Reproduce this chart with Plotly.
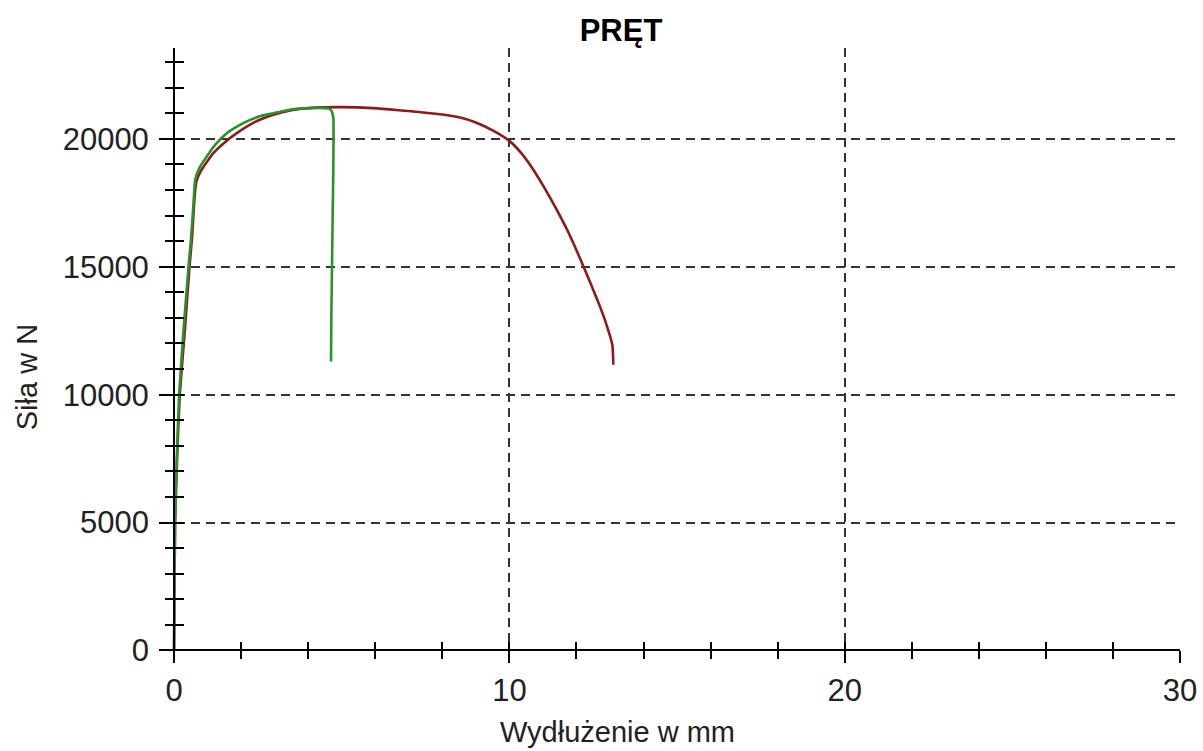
import plotly.graph_objects as go

# ---- data ----
red_x = [0, 0.01, 0.03, 0.09, 0.17, 0.32, 0.46, 0.54, 0.60, 0.66, 0.78, 1.17, 1.50, 1.87, 2.40, 2.96,
         3.50, 4.20, 5.00, 5.94, 6.70, 7.43, 8.00, 8.50, 9.00, 9.50, 10.00, 10.35, 10.71, 11.05, 11.41,
         11.80, 12.21, 12.45, 12.70, 12.90, 13.07, 13.10]
red_y = [0, 2000, 5000, 7500, 10000, 12500, 15000, 16200, 17500, 18300, 18700, 19440, 19850, 20220,
         20650, 20940, 21120, 21220, 21240, 21200, 21120, 21030, 20950, 20840, 20640, 20330, 19920,
         19450, 18800, 18070, 17230, 16230, 15010, 14260, 13450, 12720, 11950, 11170]

green_x = [0, 0.01, 0.03, 0.08, 0.15, 0.28, 0.43, 0.50, 0.57, 0.63, 0.75, 0.97, 1.25, 1.57, 1.90,
           2.27, 2.60, 2.96, 3.30, 3.66, 4.10, 4.50, 4.62, 4.70, 4.75, 4.75, 4.73, 4.71, 4.69, 4.68]
green_y = [0, 2000, 5000, 7500, 10000, 12500, 15000, 16000, 17300, 18400, 18850, 19300, 19800, 20220,
           20500, 20740, 20900, 21000, 21100, 21170, 21200, 21200, 21180, 21080, 20800, 19000, 17000,
           15000, 13000, 11300]

x_ticks = [0, 10, 20, 30]
x_tick_text = ["0", "10", "20", "30"]
y_ticks = [0, 5000, 10000, 15000, 20000]
y_tick_text = ["0", "5000", "10000", "15000", "20000"]

title_text = "<b>PRĘT</b>"
x_title = "Wydłużenie w mm"
y_title = "Siła w N"

# ---- styling ----
FONT = "Liberation Sans, Arial, sans-serif"
X_RANGE = [-0.39, 30]
Y_RANGE = [-450, 23550]
x_pos = (0 - Y_RANGE[0]) / (Y_RANGE[1] - Y_RANGE[0])
y_pos = (0 - X_RANGE[0]) / (X_RANGE[1] - X_RANGE[0])

fig = go.Figure()
fig.add_trace(go.Scatter(x=red_x, y=red_y, mode="lines",
                         line=dict(color="#8e1b1b", width=2.6, shape="spline", smoothing=0.5),
                         showlegend=False))
fig.add_trace(go.Scatter(x=green_x, y=green_y, mode="lines",
                         line=dict(color="#2a922a", width=2.6, shape="spline", smoothing=0.4),
                         showlegend=False))
# empty trace so the overlay (inner-tick) axes get drawn
fig.add_trace(go.Scatter(x=[], y=[], xaxis="x2", yaxis="y2", showlegend=False, hoverinfo="skip"))

grid = dict(showgrid=True, gridcolor="#333333", gridwidth=2, griddash="9px,6px")
tickfont = dict(family=FONT, size=31, color="#222222")

fig.update_layout(
    width=1203, height=751,
    margin=dict(l=161, r=23, t=48, b=88.5, autoexpand=False),
    paper_bgcolor="white", plot_bgcolor="white",
    font=dict(family=FONT, color="#222222"),
    title=dict(text=title_text, x=621 / 1203, xref="container", xanchor="center",
               y=1 - 30 / 751, yref="container", yanchor="middle",
               font=dict(family=FONT, size=31, color="black")),
    xaxis=dict(range=X_RANGE, anchor="free", position=x_pos, automargin=False,
               tickvals=x_ticks, ticktext=x_tick_text, tickfont=tickfont,
               ticks="outside", ticklen=12, tickwidth=2, tickcolor="black",
               showline=True, linecolor="black", linewidth=2, zeroline=False,
               minor=dict(dtick=2, tick0=0, ticks="outside", ticklen=8, tickwidth=2,
                          tickcolor="black", showgrid=False),
               **grid),
    yaxis=dict(range=Y_RANGE, anchor="free", position=y_pos, automargin=False,
               tickvals=y_ticks, ticktext=y_tick_text, tickfont=tickfont,
               ticks="outside", ticklen=14, tickwidth=2, tickcolor="black",
               ticklabelstandoff=4,
               showline=True, linecolor="black", linewidth=2, zeroline=False,
               minor=dict(dtick=1000, tick0=0, ticks="outside", ticklen=8, tickwidth=2,
                          tickcolor="black", showgrid=False),
               **grid),
    xaxis2=dict(range=X_RANGE, overlaying="x", anchor="free", position=x_pos, automargin=False,
                tickvals=x_ticks, showticklabels=False, showgrid=False, zeroline=False,
                ticks="inside", ticklen=8, tickwidth=2, tickcolor="black",
                minor=dict(dtick=2, tick0=0, ticks="inside", ticklen=8, tickwidth=2,
                           tickcolor="black", showgrid=False)),
    yaxis2=dict(range=Y_RANGE, overlaying="y", anchor="free", position=y_pos, side="left",
                automargin=False,
                tickvals=y_ticks, showticklabels=False, showgrid=False, zeroline=False,
                ticks="inside", ticklen=9, tickwidth=2, tickcolor="black",
                minor=dict(dtick=1000, tick0=0, ticks="inside", ticklen=9, tickwidth=2,
                           tickcolor="black", showgrid=False)),
    annotations=[
        dict(text=x_title, xref="paper", yref="paper", x=(617 - 161) / 1019,
             y=(662.5 - 733) / 614.5, xanchor="center", yanchor="middle", showarrow=False,
             font=dict(family=FONT, size=29, color="#222222")),
        dict(text=y_title, xref="paper", yref="paper", x=(26.5 - 161) / 1019,
             y=(662.5 - 378) / 614.5, xanchor="center", yanchor="middle", showarrow=False,
             textangle=-90, font=dict(family=FONT, size=29, color="#222222")),
    ],
)

fig.write_html("out.html", config={"displayModeBar": False},
               post_script="document.body.style.margin='0';")
